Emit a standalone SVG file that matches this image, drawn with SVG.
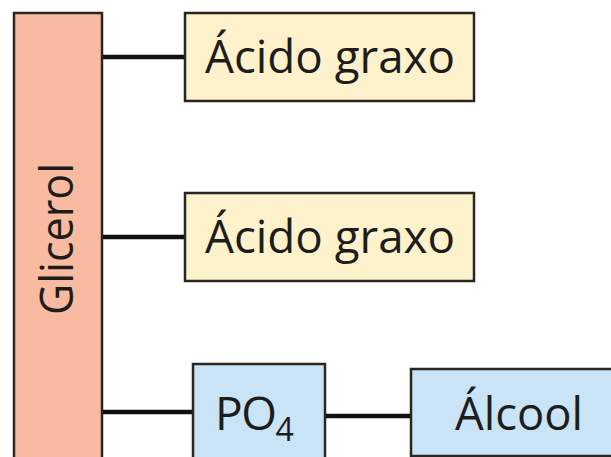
<svg xmlns="http://www.w3.org/2000/svg" width="611" height="457" viewBox="0 0 611 457">
<style>
.box{stroke:#2a2622;stroke-width:2.5}
.gl{fill:#f8baa1}
.fa{fill:#fdf2cb}
.bl{fill:#c8e4f6}
.t{font-family:"Open Sans","Noto Sans",sans-serif;font-size:46px;fill:#1f1d1b}
.c{stroke:#111;stroke-width:4.5;fill:none}
</style>
<rect width="611" height="457" fill="#ffffff"/>
<g id="connectors">
<line class="c" x1="102" y1="57" x2="185" y2="57"/>
<line class="c" x1="102" y1="237" x2="185" y2="237"/>
<line class="c" x1="102" y1="412" x2="193" y2="412"/>
<line class="c" x1="325" y1="416" x2="411" y2="416"/>
</g>
<g id="glicerol">
<rect class="box gl" x="14" y="13" width="88" height="460"/>
<text class="t" transform="translate(73,315) rotate(-90)" textLength="152" lengthAdjust="spacingAndGlyphs">Glicerol</text>
</g>
<g id="acido1">
<rect class="box fa" x="185" y="13" width="289" height="88"/>
<text class="t" x="205" y="73" textLength="250" lengthAdjust="spacingAndGlyphs">Ácido graxo</text>
</g>
<g id="acido2">
<rect class="box fa" x="185" y="193" width="289" height="88"/>
<text class="t" x="205" y="253" textLength="250" lengthAdjust="spacingAndGlyphs">Ácido graxo</text>
</g>
<g id="po4">
<rect class="box bl" x="193" y="364" width="132" height="110"/>
<text class="t" x="215" y="430"><tspan textLength="62">PO</tspan><tspan font-size="32" dy="11">4</tspan></text>
</g>
<g id="alcool">
<rect class="box bl" x="411" y="369" width="215" height="87"/>
<text class="t" x="455" y="430" textLength="128" lengthAdjust="spacingAndGlyphs">Álcool</text>
</g>
</svg>
